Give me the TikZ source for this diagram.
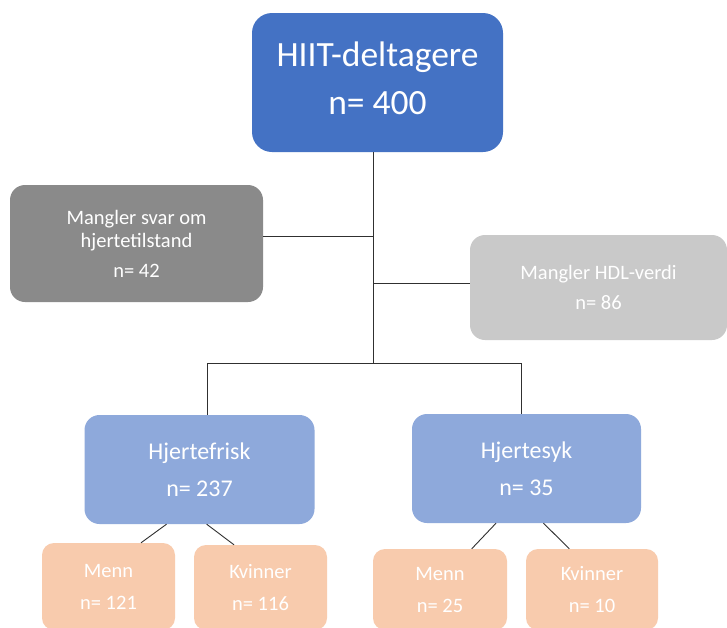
\documentclass[tikz,border=0pt]{standalone}
\usepackage{fontspec}
\setmainfont{Carlito}
\definecolor{topblue}{HTML}{4472C4}
\definecolor{midblue}{HTML}{8EA9DB}
\definecolor{darkgrey}{HTML}{8A8A8A}
\definecolor{lightgrey}{HTML}{C9C9C9}
\definecolor{peach}{HTML}{F8CBAD}
\definecolor{linecol}{HTML}{303030}
\begin{document}
\begin{tikzpicture}[x=1pt,y=-1pt,
  boxbase/.style={draw=none, inner sep=0pt, align=center, text=white},
  topbox/.style={boxbase, fill=topblue, rounded corners=20pt, font=\fontsize{35.5}{48}\selectfont},
  greybox/.style={boxbase, rounded corners=15pt, font=\fontsize{20.5}{23.5}\selectfont},
  bluebox/.style={boxbase, fill=midblue, rounded corners=15pt, minimum width=230pt, minimum height=109pt, font=\fontsize{24}{36.5}\selectfont},
  smallbox/.style={boxbase, fill=peach, rounded corners=12pt, minimum width=133pt, font=\fontsize{20.5}{32}\selectfont},
  conn/.style={draw=linecol, line width=0.9pt}]
\useasboundingbox (0,0) rectangle (727,627);
\clip (0,0) rectangle (727,627);
\fill[white] (0,0) rectangle (727,627);

\node[topbox, minimum width=251pt, minimum height=139pt, text depth=8pt] (top) at (377.5,82.5) {HIIT-deltagere\\n= 400};
\node[greybox, fill=darkgrey, minimum width=253pt, minimum height=117pt] (left) at (136.5,243.5) {Mangler svar om\\hjertetilstand\\[6pt]n= 42};
\node[greybox, fill=lightgrey, minimum width=257pt, minimum height=105pt, font=\fontsize{20.5}{30}\selectfont] (right) at (598.5,287.5) {Mangler HDL-verdi\\n= 86};

\node[bluebox] (hf) at (199.5,469.5) {Hjertefrisk\\n= 237};
\node[bluebox, minimum width=229pt] (hs) at (526.5,468.5) {Hjertesyk\\n= 35};

\node[smallbox, minimum height=87pt] (m1) at (108.5,586.5) {Menn\\n= 121};
\node[smallbox, minimum height=85pt] (k1) at (260.5,587.5) {Kvinner\\n= 116};
\node[smallbox, minimum width=134pt, minimum height=81pt] (m2) at (440,589.5) {Menn\\n= 25};
\node[smallbox, minimum width=132pt, minimum height=81pt] (k2) at (592,589.5) {Kvinner\\n= 10};

\coordinate (j1) at (373,236);
\coordinate (j2) at (373,283);
\coordinate (bus) at (373,363);
\coordinate (bl) at (207,363);
\coordinate (br) at (521.7,363);

\draw[conn] (top.south -| bus) -- (bus);
\draw[conn] (left.east |- j1) -- (j1);
\draw[conn] (j2) -- (right.west |- j2);
\draw[conn] (bl) -- (br);
\draw[conn] (bl) -- (bl |- hf.north);
\draw[conn] (br) -- (br |- hs.north);

\draw[conn] ([xshift=-33pt]hf.south) -- ([xshift=32.5pt]m1.north);
\draw[conn] ([xshift=7.2pt]hf.south) -- ([xshift=-26.5pt]k1.north);
\draw[conn] ([xshift=-30.5pt]hs.south) -- ([xshift=31.7pt]m2.north);
\draw[conn] ([xshift=17pt]hs.south) -- ([xshift=-22.7pt]k2.north);
\end{tikzpicture}
\end{document}
